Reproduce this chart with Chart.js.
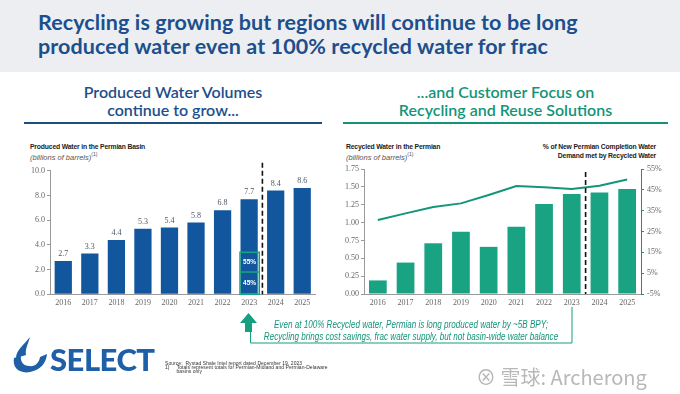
<!DOCTYPE html>
<html>
<head>
<meta charset="utf-8">
<script src="https://cdn.jsdelivr.net/npm/chart.js@4.4.1/dist/chart.umd.min.js"></script>
<style>
  body { margin: 0; width: 680px; height: 394px; background: #fff; position: relative; overflow: hidden; font-family: "Open Sans", sans-serif; }
  .abs { position: absolute; }
  #header { left: 0; top: 0; width: 680px; height: 72px; background: #eceef1; }
  #title { left: 38px; top: 10px; font-size: 21.5px; font-weight: 700; color: #1c4f8c; line-height: 24px; font-family: "Lato", sans-serif; letter-spacing: 0.1px; white-space: nowrap; }
  .sub { font-family: "Lato", sans-serif; font-size: 16px; font-weight: 600; text-align: center; line-height: 18px; white-space: nowrap; }
  .rule { height: 2px; }
  .ctitle { font-family: "Liberation Sans", sans-serif; font-size: 8px; font-weight: 700; color: #222; letter-spacing: -0.2px; white-space: nowrap; transform: scaleX(0.85); }
  .cunit { font-family: "Liberation Sans", sans-serif; font-size: 7.5px; font-style: italic; color: #555; }
  .cunit sup { font-size: 5px; font-style: normal; }
  canvas { position: absolute; }
  #note { left: 186px; top: 319px; width: 450px; font-family: "Liberation Sans", sans-serif; font-style: italic; font-size: 10px; color: #139479; text-align: center; line-height: 12px; white-space: nowrap; transform: scaleX(0.81); transform-origin: 225px 0; }
  #source { left: 165px; top: 362px; font-family: "Liberation Sans", sans-serif; font-size: 5px; color: #333; line-height: 3.9px; white-space: nowrap; letter-spacing: 0.05px; }
  #mark { left: 476px; top: 362px; font-family: "Noto Sans CJK SC", sans-serif; font-size: 20px; color: #b8b8b8; white-space: nowrap; }
</style>
</head>
<body>
<div id="header" class="abs"></div>
<div id="title" class="abs">Recycling is growing but regions will continue to be long<br>produced water even at 100% recycled water for frac</div>

<div class="abs sub" style="left:24px; top:83px; width:298px; color:#1c4f8c;">Produced Water Volumes<br>continue to grow...</div>
<div class="abs rule" style="left:24px; top:122px; width:298px; background:#1c4f7d;"></div>
<div class="abs sub" style="left:343px; top:83px; width:325px; color:#139479;">...and Customer Focus on<br>Recycling and Reuse Solutions</div>
<div class="abs rule" style="left:343px; top:122px; width:325px; background:#139479;"></div>

<div class="abs ctitle" style="left:30px; top:142px; transform-origin:0 0;">Produced Water in the Permian Basin</div>
<div class="abs cunit" style="left:30px; top:151px;">(billions of barrels)<sup>(1)</sup></div>
<div class="abs ctitle" style="left:346px; top:142px; transform-origin:0 0;">Recycled Water in the Permian</div>
<div class="abs cunit" style="left:346px; top:151px;">(billions of barrels)<sup>(1)</sup></div>
<div class="abs ctitle" style="left:456px; top:142px; width:200px; text-align:right; line-height:9px; transform-origin:200px 0;">% of New Permian Completion Water<br>Demand met by Recycled Water</div>

<canvas id="left" width="300" height="150" style="left:20px; top:160px;"></canvas>
<canvas id="right" width="330" height="150" style="left:340px; top:160px;"></canvas>

<svg class="abs" style="left:0; top:0;" width="680" height="394">
  <path d="M250.5 331 L250.5 343 L572 343 L572 307" fill="none" stroke="#17a07f" stroke-width="1"/>
  <path d="M248.5 313 L257 323 L252 323 L252 332 L245 332 L245 323 L240 323 Z" fill="#17a07f"/>
  <path d="M30 337 C24 345 16 350 16 358 L26 355 C25 349 28 344 30 337 Z" fill="#1f5fa8"/>
  <path d="M14 358 C12 368 20 374 30 372 C40 370 46 364 47 354 L40 357 C39 363 35 367 29 366 C24 366 20 362 21 356 Z" fill="#1f5fa8"/>
</svg>
<div class="abs" style="left:50px; top:340px; font-family:'Lato',sans-serif; font-weight:900; font-size:31px; color:#1f5fa8; letter-spacing:-0.5px;">SELECT</div>

<div id="note" class="abs">Even at 100% Recycled water, Permian is long produced water by ~5B BPY;<br>Recycling brings cost savings, frac water supply, but not basin-wide water balance</div>
<div id="source" class="abs">Source:&nbsp; Rystad Shale Intel report dated December 19, 2023<br>1)&nbsp;&nbsp;&nbsp;&nbsp; Totals represent totals for Permian-Midland and Permian-Delaware<br>&nbsp;&nbsp;&nbsp;&nbsp;&nbsp;&nbsp;&nbsp;&nbsp;basins only</div>
<div id="mark" class="abs">⊗ 雪球: Archerong</div>

<script>
const years = ['2016', '2017', '2018', '2019', '2020', '2021', '2022', '2023', '2024', '2025'];
const producedWater = [2.7, 3.3, 4.4, 5.3, 5.4, 5.8, 6.8, 7.7, 8.4, 8.6];
const recycledWater = [0.19, 0.44, 0.71, 0.87, 0.66, 0.94, 1.26, 1.40, 1.42, 1.47];
const recycledShare = [30.5, 33.7, 36.8, 38.5, 42.5, 46.8, 46.2, 45.4, 47.0, 50.0];
const leftTicks = [0, 2, 4, 6, 8, 10];
const splitBox = { index: 7, top: 3.4, mid: 1.8, labels: ['55%', '45%'] };
const forecastFrom = 8; // 2024 onward is forecast

const tickFont = { family: 'Liberation Serif', size: 8 };
const tickColor = '#666';

// dashed line between actuals and forecast
const forecastLine = {
    id: 'forecastLine',
    afterDatasetsDraw(chart, args, opts) {
        const x = (chart.scales.x.getPixelForValue(forecastFrom - 1) + chart.scales.x.getPixelForValue(forecastFrom)) / 2;
        const ctx = chart.ctx;
        ctx.save();
        ctx.strokeStyle = '#111';
        ctx.lineWidth = 1.6;
        ctx.setLineDash([5, 3]);
        ctx.beginPath();
        ctx.moveTo(x, chart.chartArea.top + opts.top);
        ctx.lineTo(x, chart.chartArea.bottom);
        ctx.stroke();
        ctx.restore();
    }
};

// value labels above bars
const barValues = {
    id: 'barValues',
    afterDatasetsDraw(chart) {
        const ctx = chart.ctx;
        const meta = chart.getDatasetMeta(0);
        ctx.save();
        ctx.font = '8px "Liberation Serif"';
        ctx.fillStyle = '#4b5866';
        ctx.textAlign = 'center';
        ctx.textBaseline = 'bottom';
        meta.data.forEach((bar, i) => {
            ctx.fillText(producedWater[i].toFixed(1), bar.x, bar.y - 3);
        });
        ctx.restore();
    }
};

// green outlined split box on the 2023 bar
const splitPlugin = {
    id: 'splitPlugin',
    afterDatasetsDraw(chart) {
        const ctx = chart.ctx;
        const bar = chart.getDatasetMeta(0).data[splitBox.index];
        const y = chart.scales.y;
        const l = bar.x - bar.width / 2 - 0.5, r = bar.x + bar.width / 2 + 1.5;
        const t = y.getPixelForValue(splitBox.top), m = y.getPixelForValue(splitBox.mid), b = y.getPixelForValue(0);
        ctx.save();
        ctx.strokeStyle = '#1aa383';
        ctx.lineWidth = 1.5;
        ctx.strokeRect(l, t, r - l, b - t);
        ctx.beginPath();
        ctx.moveTo(l, m);
        ctx.lineTo(r, m);
        ctx.stroke();
        ctx.fillStyle = '#fff';
        ctx.font = 'bold 6.5px "Liberation Sans"';
        ctx.textAlign = 'center';
        ctx.textBaseline = 'middle';
        ctx.fillText(splitBox.labels[0], bar.x + 0.5, (t + m) / 2);
        ctx.fillText(splitBox.labels[1], bar.x + 0.5, (m + b) / 2);
        ctx.restore();
    }
};

new Chart(document.getElementById('left'), {
    type: 'bar',
    data: {
        labels: years,
        datasets: [{
            data: producedWater,
            backgroundColor: '#12579e',
            categoryPercentage: 1,
            barPercentage: 0.65
        }]
    },
    options: {
        responsive: false,
        animation: false,
        layout: { padding: { top: 10.7, right: 4.5, left: 0, bottom: 0 } },
        plugins: { legend: { display: false }, tooltip: { enabled: false }, forecastLine: { top: -8 } },
        scales: {
            x: {
                grid: { display: false, drawTicks: false },
                border: { color: '#999' },
                ticks: { font: tickFont, color: tickColor, padding: 4, maxRotation: 0 },
                afterFit: s => { s.height = 15.7; }
            },
            y: {
                min: 0, max: 10,
                afterBuildTicks: s => { s.ticks = leftTicks.map(v => ({ value: v })); },
                grid: { drawOnChartArea: false, tickLength: 3, color: '#999' },
                border: { color: '#999' },
                ticks: { font: tickFont, color: tickColor, padding: 2, callback: v => v.toFixed(1) },
                afterFit: s => { s.width = 30; }
            }
        }
    },
    plugins: [barValues, splitPlugin, forecastLine]
});

new Chart(document.getElementById('right'), {
    type: 'bar',
    data: {
        labels: years,
        datasets: [
            {
                type: 'line',
                data: recycledShare,
                yAxisID: 'y1',
                borderColor: '#13957a',
                borderWidth: 2,
                pointRadius: 0,
                tension: 0,
                order: 0
            },
            {
                data: recycledWater,
                yAxisID: 'y',
                backgroundColor: '#19a383',
                categoryPercentage: 1,
                barPercentage: 0.64,
                order: 1
            }
        ]
    },
    options: {
        responsive: false,
        animation: false,
        layout: { padding: { top: 9, right: 0, left: 0, bottom: 0 } },
        plugins: { legend: { display: false }, tooltip: { enabled: false }, forecastLine: { top: 3 } },
        scales: {
            x: {
                grid: { display: false, drawTicks: false },
                border: { color: '#999' },
                ticks: { font: tickFont, color: tickColor, padding: 4, maxRotation: 0 },
                afterFit: s => { s.height = 16; }
            },
            y: {
                min: 0, max: 1.75,
                ticks: { stepSize: 0.25, font: tickFont, color: tickColor, padding: 2, callback: v => v.toFixed(2) },
                grid: { drawOnChartArea: false, tickLength: 3, color: '#999' },
                border: { color: '#999' },
                afterFit: s => { s.width = 24; }
            },
            y1: {
                position: 'right',
                min: -5, max: 55,
                ticks: { stepSize: 10, font: tickFont, color: tickColor, padding: 3, callback: v => v + '%' },
                grid: { drawOnChartArea: false, tickLength: 3, color: '#13957a' },
                border: { color: '#13957a' },
                afterFit: s => { s.width = 29; }
            }
        }
    },
    plugins: [forecastLine]
});
</script>
</body>
</html>
